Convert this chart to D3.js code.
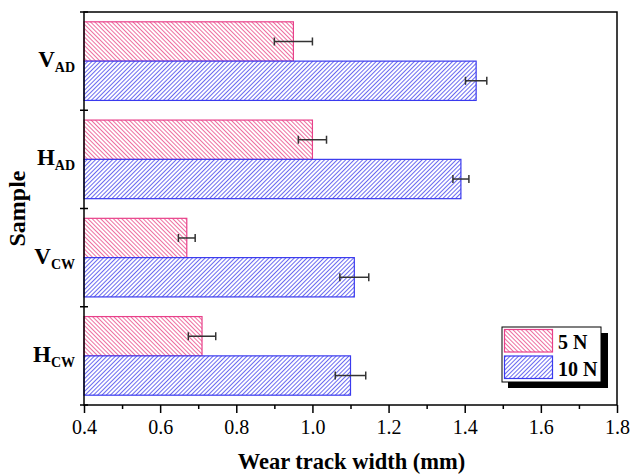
<!DOCTYPE html>
<html>
<head>
<meta charset="utf-8">
<script src="https://cdn.jsdelivr.net/npm/d3@7"></script>
<style>
  body { margin: 0; background: #fff; }
  svg { display: block; }
  svg text { font-family: "Liberation Serif", "DejaVu Serif", serif; }
</style>
</head>
<body>
<svg id="chart" width="632" height="476"></svg>
<script>
// sample names (main letter + subscript)
const sampleMain = ["V", "H", "V", "H"];
const sampleSub = ["AD", "AD", "CW", "CW"];
const samples = ["V_AD", "H_AD", "V_CW", "H_CW"];
const loads = ["5 N", "10 N"];

// wear track width (mm) and error
const width5N = [0.95, 1.00, 0.67, 0.71];
const err5N = [0.05, 0.037, 0.022, 0.036];
const width10N = [1.43, 1.39, 1.11, 1.10];
const err10N = [0.028, 0.021, 0.038, 0.04];

const xTicks = [0.4, 0.6, 0.8, 1.0, 1.2, 1.4, 1.6, 1.8];
const xMinor = [0.5, 0.7, 0.9, 1.1, 1.3, 1.5, 1.7];

const svg = d3.select("#chart");
const plotL = 84, plotR = 617, plotT = 12, plotB = 405;

const x = d3.scaleLinear().domain([0.4, 1.8]).range([plotL, plotR]);
const y = d3.scaleBand().domain(samples).range([plotT, plotB]).padding(0);
const yInner = d3.scaleBand().domain(loads).range([0, y.bandwidth()]).paddingInner(0).paddingOuter(0.25);

const colors = {
  "5 N": { stroke: "#e8408a", hatch: "#ee6fa0" },
  "10 N": { stroke: "#3a3aee", hatch: "#6a6af0" }
};

// hatch patterns: rotated vertical lines
const defs = svg.append("defs");
function hatch(id, color, angle) {
  const p = defs.append("pattern")
    .attr("id", id)
    .attr("patternUnits", "userSpaceOnUse")
    .attr("width", 3).attr("height", 3)
    .attr("patternTransform", `rotate(${angle})`);
  p.append("rect").attr("width", 3).attr("height", 3).attr("fill", "#fff");
  p.append("line").attr("x1", 0.5).attr("x2", 0.5).attr("y1", 0).attr("y2", 3)
    .attr("stroke", color).attr("stroke-width", 1);
}
hatch("hatchPink", colors["5 N"].hatch, -45);
hatch("hatchBlue", colors["10 N"].hatch, 45);

const series = [
  { key: "5 N", values: width5N, errs: err5N, fill: "url(#hatchPink)" },
  { key: "10 N", values: width10N, errs: err10N, fill: "url(#hatchBlue)" }
];

const bars = svg.append("g");
series.forEach(s => {
  const g = bars.append("g");
  g.selectAll("rect").data(samples).enter().append("rect")
    .attr("x", x(0.4))
    .attr("y", d => y(d) + yInner(s.key))
    .attr("width", (d, i) => x(s.values[i]) - x(0.4))
    .attr("height", yInner.bandwidth())
    .attr("fill", s.fill)
    .attr("stroke", colors[s.key].stroke)
    .attr("stroke-width", 1.2);
});

// error bars
const eb = svg.append("g").attr("stroke", "#333").attr("stroke-width", 1.5).attr("fill", "none");
series.forEach(s => {
  samples.forEach((d, i) => {
    const cy = y(d) + yInner(s.key) + yInner.bandwidth() / 2;
    const x1 = x(s.values[i] - s.errs[i]), x2 = x(s.values[i] + s.errs[i]);
    eb.append("line").attr("x1", x1).attr("x2", x2).attr("y1", cy).attr("y2", cy);
    eb.append("line").attr("x1", x1).attr("x2", x1).attr("y1", cy - 4).attr("y2", cy + 4);
    eb.append("line").attr("x1", x2).attr("x2", x2).attr("y1", cy - 4).attr("y2", cy + 4);
  });
});

// frame
svg.append("rect")
  .attr("x", plotL).attr("y", plotT)
  .attr("width", plotR - plotL).attr("height", plotB - plotT)
  .attr("fill", "none").attr("stroke", "#000").attr("stroke-width", 1.5);

// x axis
const xAxis = svg.append("g").attr("transform", `translate(0,${plotB})`)
  .call(d3.axisBottom(x).tickValues(xTicks).tickFormat(d3.format(".1f")).tickSize(8).tickPadding(7));
xAxis.select(".domain").remove();
xAxis.selectAll(".tick line").attr("stroke-width", 1.5);
xAxis.selectAll(".tick text").style("font-size", "20px").attr("fill", "#000");

const xMinorAxis = svg.append("g").attr("transform", `translate(0,${plotB})`)
  .call(d3.axisBottom(x).tickValues(xMinor).tickFormat("").tickSize(4));
xMinorAxis.select(".domain").remove();
xMinorAxis.selectAll(".tick line").attr("stroke-width", 1.5);

// y ticks at category boundaries, crossing the axis
const yBounds = samples.map(d => y(d)).concat([plotB]);
svg.append("g").selectAll("line").data(yBounds).enter().append("line")
  .attr("x1", plotL - 4).attr("x2", plotL + 4)
  .attr("y1", d => d).attr("y2", d => d)
  .attr("stroke", "#000").attr("stroke-width", 1.5);

// y category labels
const yl = svg.append("g").style("font-weight", "bold").attr("fill", "#000");
samples.forEach((d, i) => {
  const t = yl.append("text")
    .attr("x", 75)
    .attr("y", y(d) + y.bandwidth() / 2 + 6)
    .attr("text-anchor", "end");
  t.append("tspan").style("font-size", "23px").text(sampleMain[i]);
  t.append("tspan").style("font-size", "14px").attr("dy", 5).text(sampleSub[i]);
});

// axis titles
svg.append("text")
  .attr("x", (plotL + plotR) / 2 + 1).attr("y", 469)
  .attr("text-anchor", "middle")
  .style("font-size", "22.5px").style("font-weight", "bold")
  .text("Wear track width (mm)");

svg.append("text")
  .attr("transform", `translate(25,${(plotT + plotB) / 2}) rotate(-90)`)
  .attr("text-anchor", "middle")
  .style("font-size", "24px").style("font-weight", "bold")
  .text("Sample");

// legend
const lg = svg.append("g");
lg.append("rect").attr("x", 508).attr("y", 333).attr("width", 100).attr("height", 55).attr("fill", "#000");
lg.append("rect").attr("x", 502).attr("y", 327).attr("width", 99).attr("height", 55)
  .attr("fill", "#fff").attr("stroke", "#000").attr("stroke-width", 1);
series.forEach((s, i) => {
  const yy = 329.5 + i * 26.5;
  lg.append("rect").attr("x", 504.5).attr("y", yy).attr("width", 48).attr("height", 22.5)
    .attr("fill", s.fill).attr("stroke", colors[s.key].stroke).attr("stroke-width", 1.2);
  lg.append("text").attr("x", 558).attr("y", yy + 19.5)
    .style("font-size", "20px").style("font-weight", "bold").text(s.key);
});
</script>
</body>
</html>
